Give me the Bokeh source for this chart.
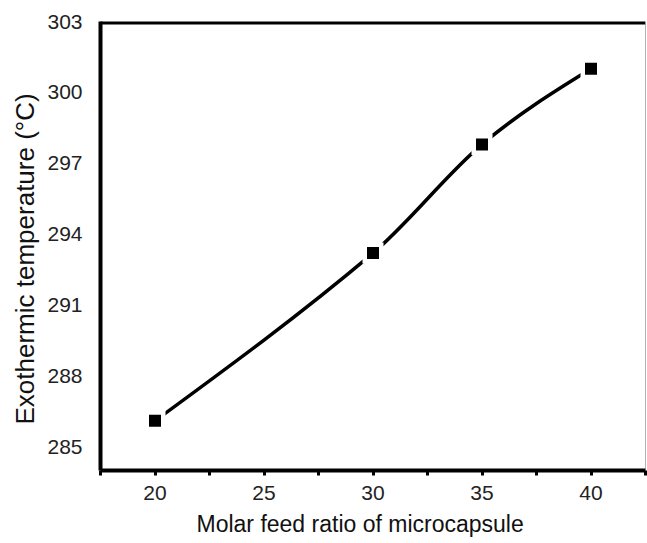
from bokeh.plotting import figure
from bokeh.models import FixedTicker, Span, Range1d, Title
from bokeh.embed import file_html
from bokeh.resources import INLINE

# Molar feed ratio vs. exothermic peak temperature
feed_ratio = [20, 30, 35, 40]
exo_temp = [286.1, 293.2, 297.8, 301.0]

x_major_ticks = [20, 25, 30, 35, 40]
x_minor_ticks = [17.5, 22.5, 27.5, 32.5, 37.5, 42.5]
y_ticks = [285, 288, 291, 294, 297, 300, 303]

x_title = "Molar feed ratio of microcapsule"
y_title = "Exothermic temperature (\u00b0C)"

FONT = "Liberation Sans"

p = figure(width=647, height=543, output_backend="svg", toolbar_location=None,
           x_range=Range1d(17.5, 42.5), y_range=Range1d(284, 303),
           min_border_left=100, min_border_right=2, min_border_top=21,
           min_border_bottom=73)
p.grid.visible = False
p.outline_line_color = None
p.background_fill_color = "white"
p.border_fill_color = "white"

# x axis
xax = p.xaxis[0]
xax.ticker = FixedTicker(ticks=x_major_ticks, minor_ticks=x_minor_ticks)
xax.axis_line_width = 4
xax.axis_line_color = "black"
xax.major_tick_line_width = 3
xax.minor_tick_line_width = 3
xax.major_tick_out = 5
xax.major_tick_in = 0
xax.minor_tick_out = 5
xax.minor_tick_in = 0
xax.major_label_text_font = FONT
xax.major_label_text_font_size = "21px"
xax.major_label_text_color = "#222222"
xax.major_label_standoff = 10

# y axis
yax = p.yaxis[0]
yax.ticker = FixedTicker(ticks=y_ticks)
yax.axis_line_width = 4
yax.axis_line_color = "black"
yax.major_tick_line_color = None
yax.minor_tick_line_color = None
yax.major_tick_out = 0
yax.major_tick_in = 0
yax.major_label_text_font = FONT
yax.major_label_text_font_size = "21px"
yax.major_label_text_color = "#222222"
yax.major_label_standoff = 18

# axis titles, offset along their axes
p.add_layout(Title(text=x_title, align="left", offset=96, standoff=12,
                   text_font=FONT, text_font_size="23px", text_font_style="normal",
                   text_color="#111111"), "below")
p.add_layout(Title(text=y_title, align="left", offset=46, standoff=9,
                   text_font=FONT, text_font_size="26px", text_font_style="normal",
                   text_color="#111111"), "left")

# frame: heavy top edge, thin right edge
p.add_layout(Span(location=303, dimension="width", line_width=6, line_color="black"))
p.add_layout(Span(location=42.5, dimension="height", line_width=1, line_color="#666666"))

# smoothed curve: cubic Hermite segments written as Bezier curves
n = len(feed_ratio)
slopes = []
for i in range(n):
    if 0 < i < n - 1:
        slopes.append((exo_temp[i + 1] - exo_temp[i - 1]) / (feed_ratio[i + 1] - feed_ratio[i - 1]))
    else:
        slopes.append(None)
c0 = (exo_temp[1] - exo_temp[0]) / (feed_ratio[1] - feed_ratio[0])
slopes[0] = (3 * c0 - slopes[1]) / 2
c1 = (exo_temp[-1] - exo_temp[-2]) / (feed_ratio[-1] - feed_ratio[-2])
slopes[-1] = (3 * c1 - slopes[-2]) / 2

x0s, y0s, x1s, y1s, cx0s, cy0s, cx1s, cy1s = [], [], [], [], [], [], [], []
for i in range(n - 1):
    h = feed_ratio[i + 1] - feed_ratio[i]
    x0s.append(feed_ratio[i]); y0s.append(exo_temp[i])
    x1s.append(feed_ratio[i + 1]); y1s.append(exo_temp[i + 1])
    cx0s.append(feed_ratio[i] + h / 3); cy0s.append(exo_temp[i] + slopes[i] * h / 3)
    cx1s.append(feed_ratio[i + 1] - h / 3); cy1s.append(exo_temp[i + 1] - slopes[i + 1] * h / 3)

p.bezier(x0=x0s, y0=y0s, x1=x1s, y1=y1s, cx0=cx0s, cy0=cy0s, cx1=cx1s, cy1=cy1s,
         line_color="black", line_width=3.5)

# white halo so the curve stops short of each marker
p.scatter(feed_ratio, exo_temp, marker="square", size=21, fill_color="white", line_color=None)
p.scatter(feed_ratio, exo_temp, marker="square", size=12, fill_color="black", line_color=None)

open("out.html", "w").write(file_html(p, INLINE))
